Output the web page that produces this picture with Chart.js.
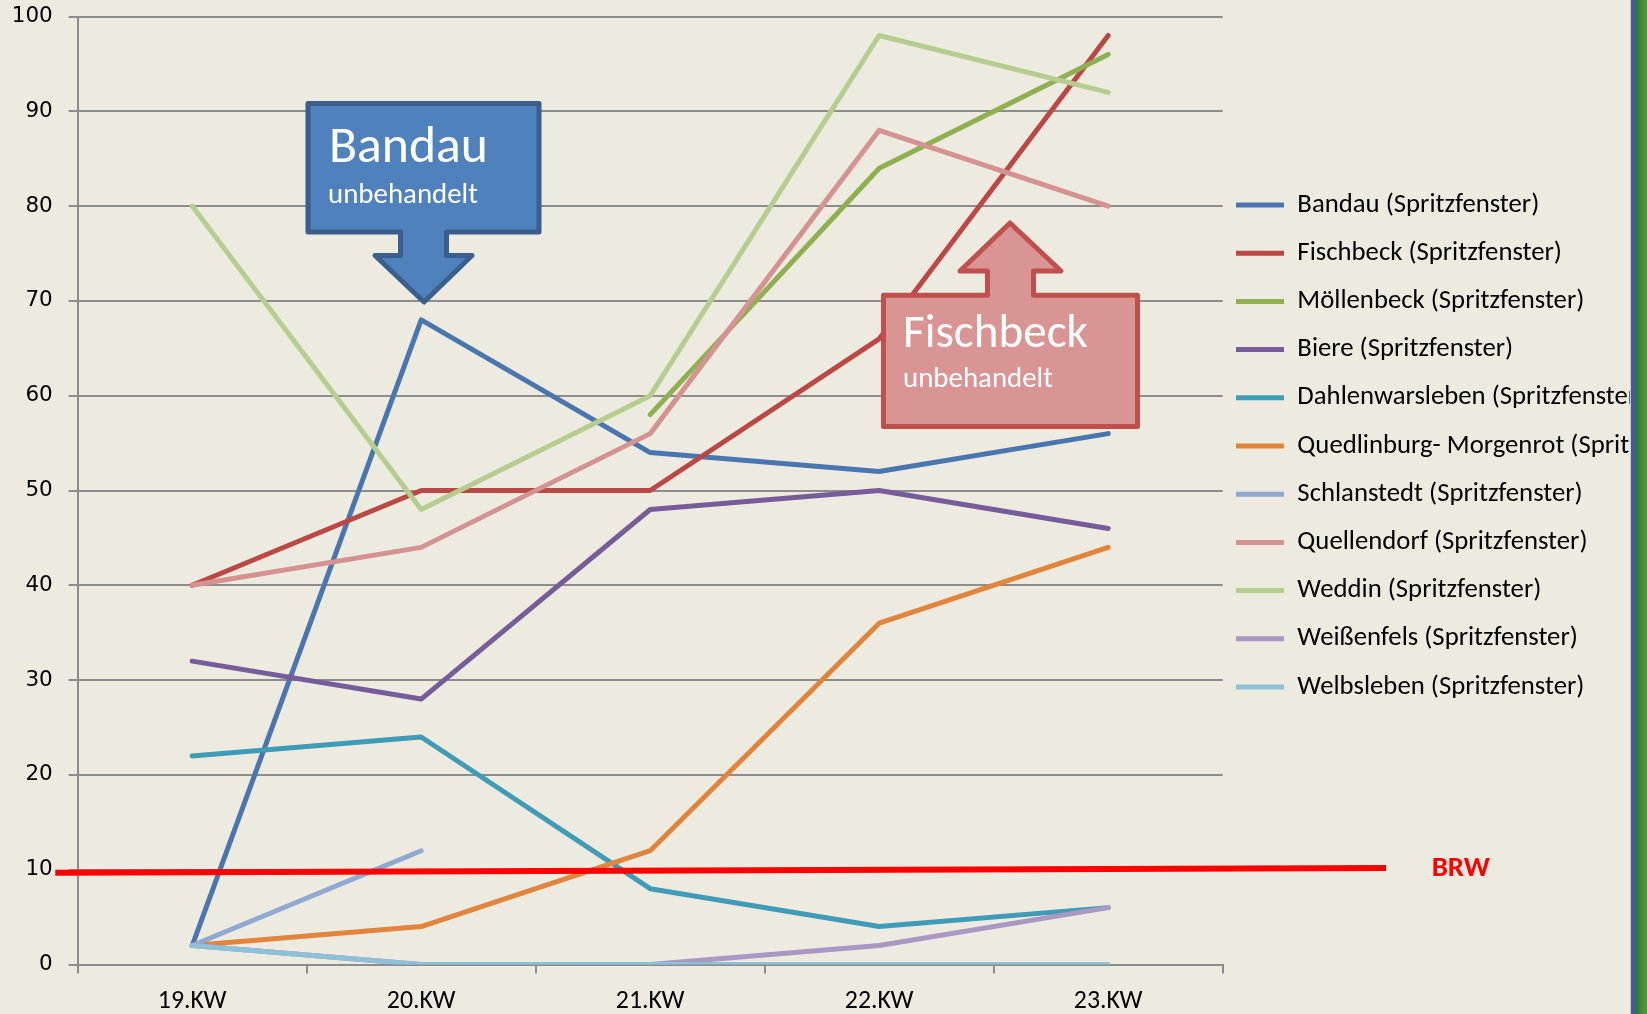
<!DOCTYPE html>
<html>
<head>
<meta charset="utf-8">
<script src="https://cdn.jsdelivr.net/npm/chart.js@4.4.1/dist/chart.umd.min.js"></script>
<style>
  html, body { margin: 0; padding: 0; background: #EDEAE0; overflow: hidden; }
  #wrap { position: relative; width: 1647px; height: 1014px; }
  canvas { display: block; }
</style>
</head>
<body>
<div id="wrap"><canvas id="c" width="1647" height="1014"></canvas></div>
<script>
// ---------- DATA ----------
const categories = ['19.KW', '20.KW', '21.KW', '22.KW', '23.KW'];
const seriesNames = [
  'Bandau (Spritzfenster)', 'Fischbeck (Spritzfenster)', 'Möllenbeck (Spritzfenster)',
  'Biere (Spritzfenster)', 'Dahlenwarsleben (Spritzfenster)', 'Quedlinburg- Morgenrot (Spritzfenster)',
  'Schlanstedt (Spritzfenster)', 'Quellendorf (Spritzfenster)', 'Weddin (Spritzfenster)',
  'Weißenfels (Spritzfenster)', 'Welbsleben (Spritzfenster)'
];
const bandau          = [2, 68, 54, 52, 56];
const fischbeck       = [40, 50, 50, 66, 98];
const moellenbeck     = [null, null, 58, 84, 96];
const biere           = [32, 28, 48, 50, 46];
const dahlenwarsleben = [22, 24, 8, 4, 6];
const quedlinburg     = [2, 4, 12, 36, 44];
const schlanstedt     = [2, 12, null, null, null];
const quellendorf     = [40, 44, 56, 88, 80];
const weddin          = [80, 48, 60, 98, 92];
const weissenfels     = [2, 0, 0, 2, 6];
const welbsleben      = [2, 0, 0, 0, 0];
const yTicks = [0, 10, 20, 30, 40, 50, 60, 70, 80, 90, 100];
const brwLabel = 'BRW';
const brwStart = 9.68, brwEnd = 10.18;   // threshold line (slightly tilted in the original)
const calloutBandau = ['Bandau', 'unbehandelt'];
const calloutFischbeck = ['Fischbeck', 'unbehandelt'];

// ---------- STYLE ----------
const seriesValues = [bandau, fischbeck, moellenbeck, biere, dahlenwarsleben, quedlinburg,
  schlanstedt, quellendorf, weddin, weissenfels, welbsleben];
const colors = ['#4A76B0', '#BB4845', '#8FB050', '#765C99', '#3F9CB6', '#E2853C',
  '#8FA9D2', '#D49290', '#B5CE90', '#A898C2', '#8CC1D7'];

const SANS = "Carlito, Lato, 'Open Sans', sans-serif";
const mctx = document.createElement('canvas').getContext('2d');
function fitSize(text, family, weight, target) {
  mctx.font = weight + ' 100px ' + family;
  return 100 * target / mctx.measureText(text).width;
}
const legendSize = fitSize('Bandau (Spritzfenster)', SANS, 'normal', 242);
const xTickSize = fitSize('19.KW', SANS, 'normal', 68.7);
const yTickSize = fitSize('100', "'DejaVu Sans'", 'normal', 41);
const GRID = '#8C8C8C';

// plot-area frame of the original (annotations are placed relative to the plot)
const REF = { l: 77.7, r: 1222.7, t: 16.5, b: 964.5 };
const CANVAS_H = 1014;
function mapper(chart) {
  const ca = chart.chartArea;
  return {
    X: x => ca.left + (x - REF.l) * (ca.right - ca.left) / (REF.r - REF.l),
    Y: y => ca.top + (y - REF.t) * (ca.bottom - ca.top) / (REF.b - REF.t)
  };
}

const legendShift = {
  id: 'legendShift',
  afterLayout(chart) {
    const lg = chart.legend;
    if (!lg) return;
    const pad = lg.options.labels.padding;
    const dx = 1236 - pad - lg.left;
    lg.left += dx; lg.right += dx;
    const dy = (205 - legendSize / 2) - pad - lg.top;
    lg.top += dy;
    lg.bottom = chart.height + 400;
  }
};

function drawPoly(ctx, pts, fill, stroke, lw) {
  ctx.save();
  ctx.beginPath();
  pts.forEach((p, i) => i ? ctx.lineTo(p[0], p[1]) : ctx.moveTo(p[0], p[1]));
  ctx.closePath();
  ctx.fillStyle = fill; ctx.fill();
  ctx.lineWidth = lw; ctx.strokeStyle = stroke; ctx.lineJoin = 'round';
  ctx.stroke();
  ctx.restore();
}
function drawFitText(ctx, text, x, y, width, color, weight) {
  const size = fitSize(text, SANS, weight || 'normal', width);
  ctx.save();
  ctx.font = (weight || 'normal') + ' ' + size + 'px ' + SANS;
  ctx.fillStyle = color; ctx.textAlign = 'left'; ctx.textBaseline = 'alphabetic';
  ctx.fillText(text, x, y);
  ctx.restore();
}

const annotations = {
  id: 'annotations',
  afterDatasetsDraw(chart) {
    const ctx = chart.ctx;
    const { X, Y } = mapper(chart);
    const ys = chart.scales.y;
    // BRW threshold line
    ctx.save();
    ctx.strokeStyle = '#FF0000'; ctx.lineWidth = 6; ctx.lineCap = 'butt';
    ctx.beginPath();
    ctx.moveTo(X(55.3), ys.getPixelForValue(brwStart));
    ctx.lineTo(X(1386), ys.getPixelForValue(brwEnd));
    ctx.stroke();
    ctx.restore();
    // Bandau callout (down arrow)
    const b = [[308, 103.5], [539, 103.5], [539, 232], [446.5, 232], [446.5, 255.5], [472, 255.5],
      [424, 302], [375, 255.5], [400.5, 255.5], [400.5, 232], [308, 232]];
    drawPoly(ctx, b.map(p => [X(p[0]), Y(p[1])]), '#4F81BD', '#3A5F8D', 5);
    drawFitText(ctx, calloutBandau[0], X(329), Y(161.7), 159, '#FFFFFF');
    drawFitText(ctx, calloutBandau[1], X(328), Y(203), 150, '#FFFFFF');
    // Fischbeck callout (up arrow)
    const f = [[883.5, 295.2], [987.5, 295.2], [987.5, 271], [960, 271], [1010, 223], [1061, 271],
      [1033.5, 271], [1033.5, 295.2], [1137.5, 295.2], [1137.5, 426.5], [883.5, 426.5]];
    drawPoly(ctx, f.map(p => [X(p[0]), Y(p[1])]), '#D99594', '#C0504D', 5);
    drawFitText(ctx, calloutFischbeck[0], X(903), Y(346.7), 185, '#FFFFFF');
    drawFitText(ctx, calloutFischbeck[1], X(903), Y(386.7), 150, '#FFFFFF');
    // BRW label
    drawFitText(ctx, brwLabel, X(1431.7), ys.getPixelForValue(brwEnd) + 8, 58.3, '#FF0000', 'bold');
  },
  afterDraw(chart) {
    const ctx = chart.ctx;
    const W = chart.width, H = chart.height;
    ctx.save();
    ctx.fillStyle = '#C9CBC4'; ctx.fillRect(W - 17, 0, 1, H);
    ctx.fillStyle = '#3E5F91'; ctx.fillRect(W - 16, 0, 5, H);
    const g = ctx.createLinearGradient(W - 11, 0, W, 0);
    g.addColorStop(0, '#2A7A2A'); g.addColorStop(0.5, '#3E8B37'); g.addColorStop(1, '#55983F');
    ctx.fillStyle = g; ctx.fillRect(W - 11, 0, 11, H);
    ctx.restore();
  }
};

const bgPlugin = {
  id: 'bg',
  beforeDraw(chart) {
    const ctx = chart.ctx;
    ctx.save(); ctx.fillStyle = '#EDEAE0'; ctx.fillRect(0, 0, chart.width, chart.height); ctx.restore();
  }
};

const datasets = seriesNames.map((name, i) => ({
  label: name,
  data: seriesValues[i],
  borderColor: colors[i],
  backgroundColor: colors[i],
  borderWidth: 5,
  borderCapStyle: 'round',
  borderJoinStyle: 'round',
  pointRadius: 0,
  pointHoverRadius: 0,
  tension: 0,
  spanGaps: false,
  fill: false,
  order: seriesNames.length - 1 - i
}));

new Chart(document.getElementById('c'), {
  type: 'line',
  data: { labels: categories, datasets },
  plugins: [bgPlugin, legendShift, annotations],
  options: {
    responsive: false,
    animation: false,
    devicePixelRatio: 1,
    layout: { padding: { left: 12, top: REF.t, right: 0, bottom: 0 }, autoPadding: false },
    plugins: {
      tooltip: { enabled: false },
      title: { display: false },
      legend: {
        position: 'right',
        align: 'start',
        maxWidth: 1647 - REF.r,
        labels: {
          usePointStyle: true,
          pointStyle: 'line',
          pointStyleWidth: 48,
          boxWidth: 48,
          padding: 48.2 - legendSize,
          color: '#000000',
          font: { family: SANS, size: legendSize },
          sort: (a, b) => a.datasetIndex - b.datasetIndex
        }
      }
    },
    scales: {
      x: {
        type: 'category',
        offset: true,
        afterFit: axis => { axis.height = CANVAS_H - REF.b; axis.paddingLeft = 0; axis.paddingRight = 0; },
        ticks: { color: '#000000', font: { family: SANS, size: xTickSize }, padding: 13, maxRotation: 0, autoSkip: false },
        grid: { offset: true, drawOnChartArea: false, drawTicks: true, tickLength: 9, color: GRID, lineWidth: 2 },
        border: { display: true, color: GRID, width: 2 }
      },
      y: {
        min: yTicks[0],
        max: yTicks[yTicks.length - 1],
        afterBuildTicks: axis => { axis.ticks = yTicks.map(v => ({ value: v })); },
        afterFit: axis => { axis.width = REF.l - 12; axis.paddingTop = 0; axis.paddingBottom = 0; },
        ticks: { color: '#000000', font: { family: "'DejaVu Sans'", size: yTickSize }, padding: 16 },
        grid: { color: GRID, lineWidth: 2, drawTicks: true, tickLength: 9 },
        border: { display: true, color: GRID, width: 2 }
      }
    }
  }
});
</script>
</body>
</html>
